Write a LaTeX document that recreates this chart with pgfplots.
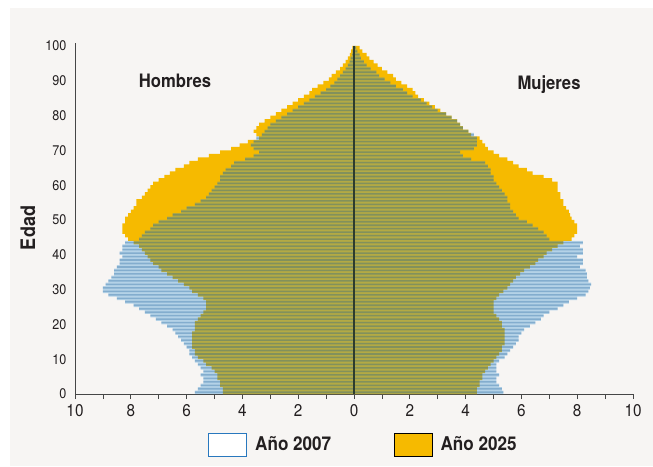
\documentclass[border=0pt]{standalone}
\usepackage{pgfplots}
\usepackage{pgfplotstable}
\pgfplotsset{compat=1.18}
\usepackage{fontspec}
\setmainfont{TeX Gyre Heros}[FakeStretch=0.9]
\definecolor{bggray}{RGB}{247,245,243}
\definecolor{orange25}{RGB}{246,186,0}
\definecolor{blueA}{RGB}{44,139,209}
\definecolor{blueB}{RGB}{20,90,150}
\definecolor{axisgray}{RGB}{70,70,70}
\definecolor{textdark}{RGB}{35,31,32}
\definecolor{centerline}{RGB}{45,60,45}
\definecolor{legblue}{RGB}{40,120,190}

\pgfplotstableread{
age m07 m25 f07 f25
0 5.7 4.7 5.35 4.4
1 5.6 4.7 5.3 4.4
2 5.5 4.8 5.2 4.5
3 5.4 4.8 5.1 4.5
4 5.4 4.9 5.1 4.6
5 5.5 4.9 5.2 4.6
6 5.4 5.0 5.1 4.7
7 5.5 5.1 5.1 4.8
8 5.6 5.3 5.1 4.9
9 5.7 5.4 5.2 5.0
10 5.8 5.6 5.4 5.1
11 5.9 5.7 5.5 5.2
12 5.9 5.7 5.6 5.3
13 6.0 5.8 5.7 5.3
14 6.1 5.8 5.8 5.4
15 6.2 5.8 5.9 5.4
16 6.3 5.8 5.9 5.4
17 6.4 5.8 6.0 5.4
18 6.5 5.7 6.1 5.4
19 6.7 5.7 6.3 5.3
20 6.9 5.7 6.5 5.3
21 7.1 5.6 6.7 5.2
22 7.3 5.5 6.8 5.1
23 7.5 5.4 7.0 5.0
24 7.7 5.3 7.3 5.0
25 7.9 5.3 7.5 5.0
26 8.2 5.3 7.7 5.0
27 8.5 5.4 8.0 5.1
28 8.8 5.6 8.3 5.2
29 9.0 5.8 8.4 5.35
30 9.0 5.9 8.45 5.5
31 8.9 6.1 8.5 5.6
32 8.8 6.3 8.4 5.7
33 8.7 6.5 8.35 5.8
34 8.6 6.7 8.35 5.95
35 8.6 6.9 8.3 6.1
36 8.5 7.0 8.1 6.3
37 8.4 7.2 8.2 6.5
38 8.4 7.3 8.2 6.6
39 8.3 7.4 8.0 6.8
40 8.4 7.5 8.2 6.9
41 8.3 7.6 8.2 7.1
42 8.3 7.7 8.1 7.3
43 8.2 7.9 8.2 7.5
44 7.7 8.1 7.0 7.8
45 7.6 8.2 6.9 7.9
46 7.5 8.3 6.8 8.0
47 7.3 8.3 6.6 8.0
48 7.2 8.3 6.4 8.0
49 7.0 8.2 6.2 7.9
50 6.7 8.2 5.9 7.8
51 6.5 8.1 5.8 7.75
52 6.2 8.0 5.7 7.7
53 6.0 7.9 5.6 7.6
54 5.7 7.8 5.6 7.5
55 5.5 7.8 5.5 7.5
56 5.3 7.6 5.5 7.4
57 5.2 7.5 5.4 7.4
58 5.1 7.4 5.3 7.3
59 5.0 7.3 5.2 7.3
60 4.9 7.2 5.1 7.3
61 4.8 7.0 5.0 7.1
62 4.8 6.8 5.0 6.8
63 4.7 6.6 4.9 6.4
64 4.6 6.4 4.9 6.2
65 4.4 6.1 4.8 5.9
66 4.3 5.9 4.7 5.7
67 3.9 5.6 4.2 5.5
68 3.6 5.2 3.9 5.2
69 3.4 4.8 3.8 5.0
70 3.6 4.4 4.3 4.8
71 3.7 4.1 4.4 4.7
72 3.6 3.8 4.4 4.6
73 3.5 3.4 4.4 4.5
74 3.3 3.5 4.3 4.2
75 3.2 3.6 4.1 4.1
76 3.1 3.5 3.9 3.9
77 3.0 3.4 3.8 3.8
78 2.8 3.2 3.7 3.7
79 2.6 3.0 3.5 3.5
80 2.4 2.8 3.3 3.3
81 2.2 2.6 3.0 3.1
82 2.0 2.4 2.8 2.9
83 1.8 2.2 2.6 2.7
84 1.6 2.0 2.4 2.5
85 1.4 1.8 2.1 2.3
86 1.2 1.6 1.9 2.2
87 1.0 1.5 1.75 2.1
88 0.85 1.3 1.5 1.9
89 0.7 1.1 1.3 1.7
90 0.6 0.9 1.1 1.5
91 0.5 0.8 0.9 1.4
92 0.4 0.65 0.8 1.2
93 0.3 0.5 0.6 1.0
94 0.22 0.4 0.45 0.85
95 0.16 0.3 0.35 0.7
96 0.12 0.22 0.25 0.55
97 0.08 0.15 0.2 0.45
98 0.05 0.1 0.12 0.3
99 0.03 0.06 0.08 0.2
}\pyramid

\begin{document}
\begin{tikzpicture}[x=1pt,y=1pt]
\fill[white] (0,0) rectangle (653,466);
\fill[bggray] (10,0) rectangle (653,458);
\begin{axis}[
  at={(75pt,72pt)}, anchor=south west,
  x=27.9pt, y=3.48pt,
  xmin=-10, xmax=10, ymin=0, ymax=101,
  axis x line*=bottom, axis y line*=left,
  axis line style={draw=axisgray, line width=0.9pt},
  xtick={-10,-8,...,10},
  minor xtick={-9,-7,...,9},
  xticklabels={10,8,6,4,2,0,2,4,6,8,10},
  ytick={0,10,...,100},
  tick align=outside,
  major tick length=5pt, minor tick length=5pt,
  xtick style={draw=axisgray, line width=0.8pt},
  minor x tick style={draw=axisgray, line width=0.8pt},
  ytick style={draw=none},
  /pgf/number format/assume math mode=true,
  xticklabel style={font=\fontsize{17}{19}\selectfont, text=textdark, yshift=-2pt},
  yticklabel style={font=\fontsize{14}{16}\selectfont, text=textdark, anchor=east},
  xbar, bar width=1, bar shift=0.5,
  legend columns=2,
  legend style={at={(rel axis cs:0.233,-0.1437)}, anchor=west, draw=none, fill=none,
     font=\bfseries\fontsize{19}{21}\selectfont, text=textdark,
     nodes={inner sep=0pt}, column sep=0pt},
  legend image code/.code={\draw[#1] (0pt,-11.5pt) rectangle (38pt,11.5pt);},
  clip=false,
]
\addlegendimage{fill=white, draw=legblue, line width=1pt}
\addlegendentry{\rule{8pt}{0pt}Año 2007\rule{63pt}{0pt}}
\addlegendimage{fill=orange25, draw=none}
\addlegendentry{\rule{8pt}{0pt}Año 2025}

% 2025
\addplot[fill=orange25, draw=none, forget plot] table[x expr=-\thisrow{m25}, y=age] {\pyramid};
\addplot[fill=orange25, draw=none, forget plot] table[x=f25, y=age] {\pyramid};
% 2007 base layer
\addplot[fill=blueA, fill opacity=0.33, draw=none, forget plot] table[x expr=-\thisrow{m07}, y=age] {\pyramid};
\addplot[fill=blueA, fill opacity=0.33, draw=none, forget plot] table[x=f07, y=age] {\pyramid};
% 2007 stripe layer
\addplot[fill=blueB, fill opacity=0.3, draw=none, bar width=0.45, bar shift=0.5, forget plot] table[x expr=-\thisrow{m07}, y=age] {\pyramid};
\addplot[fill=blueB, fill opacity=0.3, draw=none, bar width=0.45, bar shift=0.5, forget plot] table[x=f07, y=age] {\pyramid};
% center line
\addplot[sharp plot, no marks, draw=centerline, line width=1.6pt, forget plot] coordinates {(0,0) (0,100)};
\end{axis}
\node[font=\bfseries\fontsize{18.5}{20}\selectfont, text=textdark] at (175,385) {Hombres};
\node[font=\bfseries\fontsize{18.5}{20}\selectfont, text=textdark] at (549,381) {Mujeres};
\node[font=\bfseries\fontsize{20}{22}\selectfont, text=textdark, rotate=90] at (28,238) {Edad};
\end{tikzpicture}
\end{document}
